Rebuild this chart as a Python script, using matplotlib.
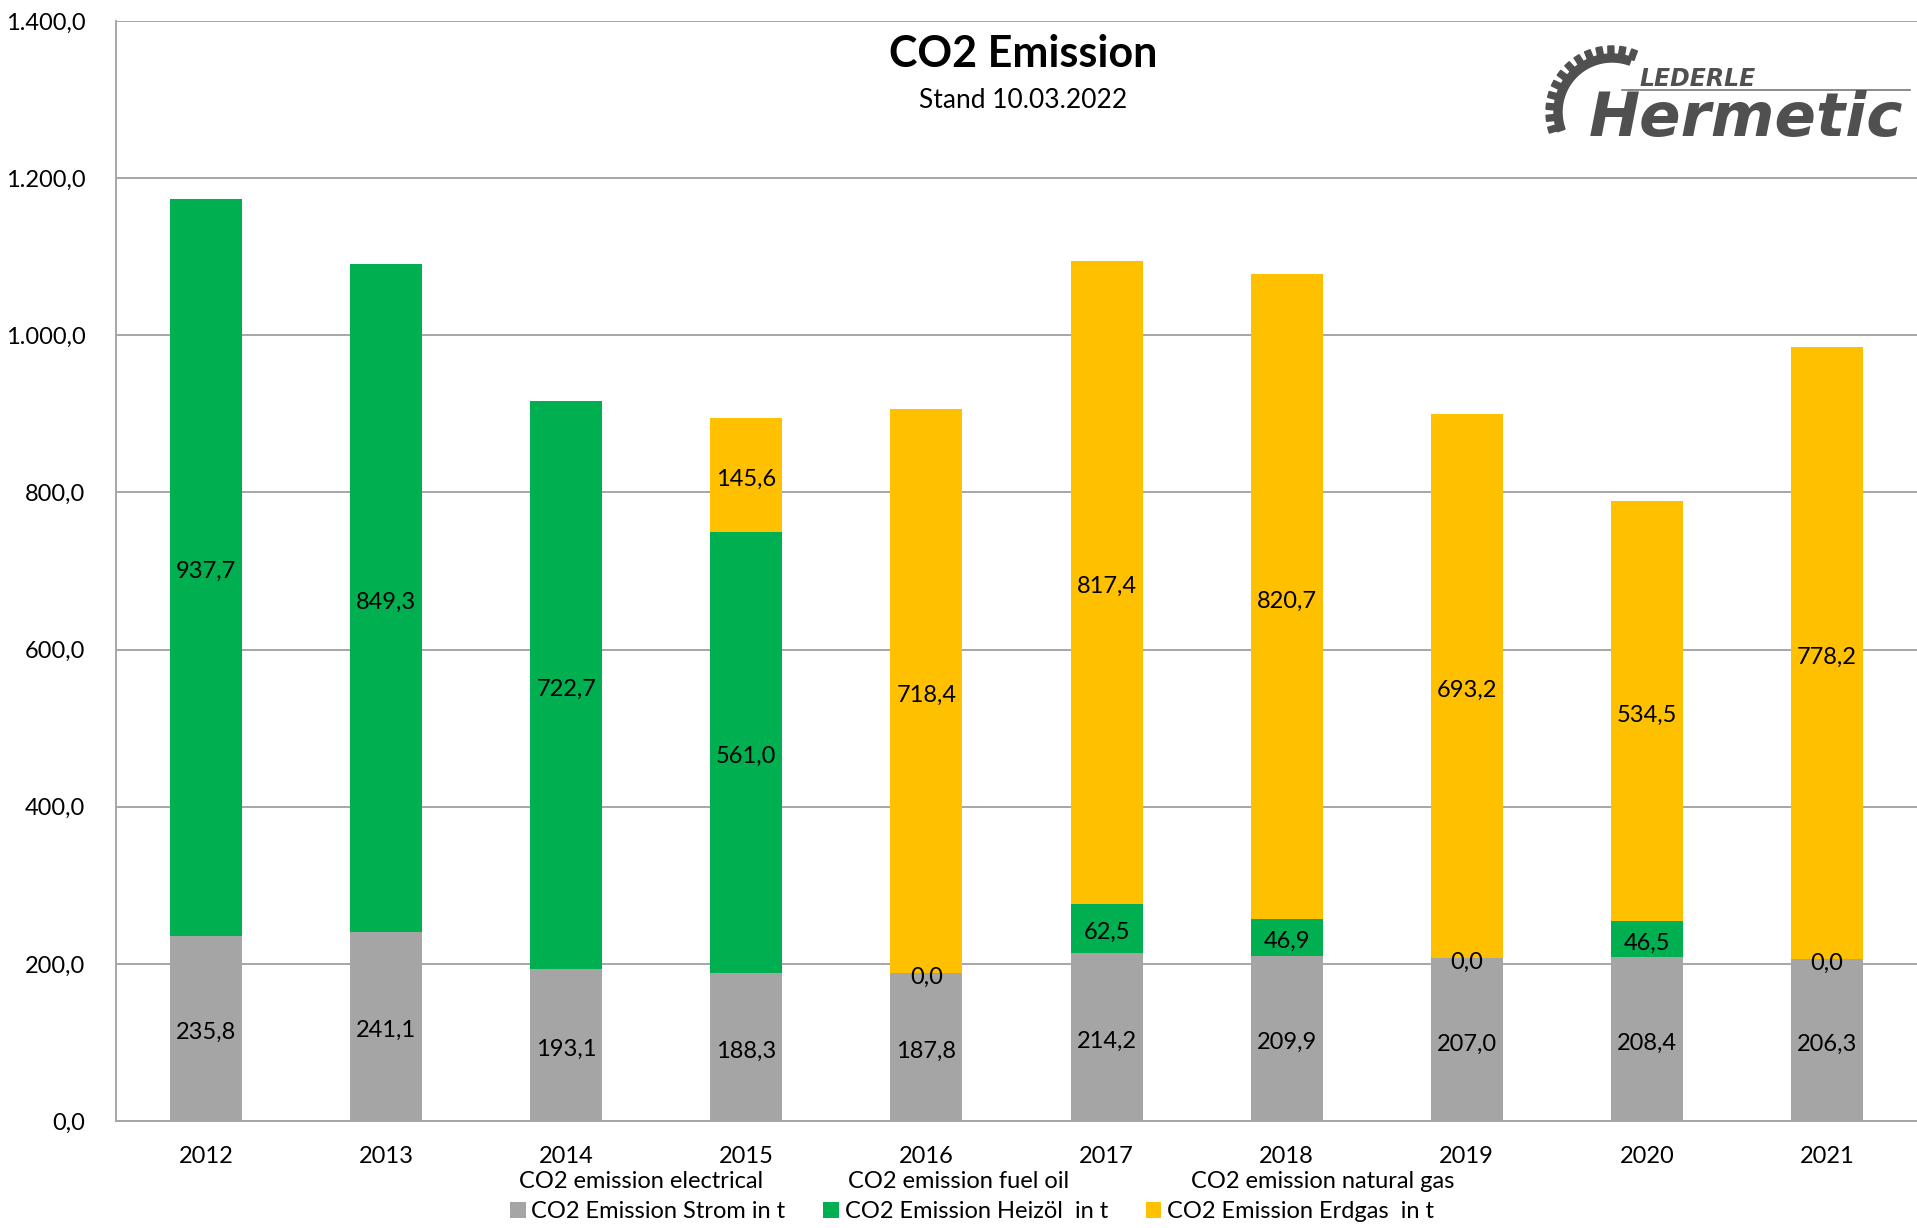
import numpy as np
import matplotlib
matplotlib.use("Agg")
from matplotlib import pyplot as plt
from matplotlib.patches import Polygon

plt.rcParams['font.family'] = ['Lato', 'DejaVu Sans']

years = ['2012', '2013', '2014', '2015', '2016', '2017', '2018', '2019', '2020', '2021']
strom = [235.8, 241.1, 193.1, 188.3, 187.8, 214.2, 209.9, 207.0, 208.4, 206.3]
heizoel = [937.7, 849.3, 722.7, 561.0, 0.0, 62.5, 46.9, 0.0, 46.5, 0.0]
erdgas = [None, None, None, 145.6, 718.4, 817.4, 820.7, 693.2, 534.5, 778.2]

series_names = ['CO2 Emission Strom in t', 'CO2 Emission Heizöl  in t', 'CO2 Emission Erdgas  in t']
series_titles = ['CO2 emission electrical', 'CO2 emission fuel oil', 'CO2 emission natural gas']
colors = ['#A5A5A5', '#00B050', '#FFC000']

W, H = 1917, 1228
fig = plt.figure(figsize=(W / 100, H / 100), dpi=100)
ax = fig.add_axes([116 / W, 1 - 1121 / H, 1 - 116 / W, (1121 - 21) / H])

def fmt(v):
    s = '{:,.1f}'.format(v)
    return s.replace(',', 'X').replace('.', ',').replace('X', '.')

x = np.arange(len(years))
bottom = np.zeros(len(years))
fs = 17
for vals, col, name in zip([strom, heizoel, erdgas], colors, series_names):
    v = np.array([np.nan if a is None else a for a in vals], dtype=float)
    h = np.nan_to_num(v)
    bars = ax.bar(x, h, 0.4, bottom=bottom, color=col, label=name, zorder=3)
    labels = ['' if np.isnan(a) else fmt(a) for a in v]
    txts = ax.bar_label(bars, labels=labels, label_type='center', fontsize=fs, color='black', zorder=4)
    for t in txts:
        # nudge slightly down like Excel's centring
        t.set_y(-3)
    bottom = bottom + h

ax.set_xlim(-0.5, 9.5)
ax.set_ylim(0, 1400)
ax.set_yticks(np.arange(0, 1401, 200))
ax.set_yticklabels([fmt(t) for t in np.arange(0, 1401, 200)], fontsize=fs)
ax.set_xticks(x)
ax.set_xticklabels(years, fontsize=fs)
ax.tick_params(length=0)
ax.tick_params(axis='x', pad=18)
ax.tick_params(axis='y', pad=22)
ax.grid(axis='y', color='#A6A6A6', linewidth=1.4, zorder=0)
for s in ['top', 'right']:
    ax.spines[s].set_visible(False)
for s in ['left', 'bottom']:
    ax.spines[s].set_color('#A6A6A6')
    ax.spines[s].set_linewidth(1.4)

fig.text(1023 / W, 1 - 54 / H, 'CO2 Emission', fontsize=31, fontweight='bold', ha='center', va='center')
fig.text(1023 / W, 1 - 100 / H, 'Stand 10.03.2022', fontsize=19, ha='center', va='center')

# legend with the series titles on top
leg = fig.legend(loc='center', bbox_to_anchor=(972 / W, 1 - 1212 / H), ncol=3, frameon=False,
                 fontsize=fs, handlelength=0.65, handleheight=0.65, handletextpad=0.25,
                 columnspacing=1.6, borderpad=0)
for t, xc in zip(series_titles, [641, 959, 1323]):
    fig.text(xc / W, 1 - 1181 / H, t, fontsize=fs, ha='center', va='center')

# logo
lax = fig.add_axes([0, 0, 1, 1], zorder=10)
lax.set_xlim(0, W)
lax.set_ylim(H, 0)
lax.axis('off')
logo = '#505050'
cx, cy, r = 1612, 112, 58
for a in np.arange(70, 205, 10.5):
    t = np.radians(a)
    ux, uy = np.cos(t), -np.sin(t)
    px, py = -uy, ux
    r0, r1, hw = r - 2, r + 8, 3
    pts = [(cx + ux * r0 + px * hw, cy + uy * r0 + py * hw),
           (cx + ux * r1 + px * hw, cy + uy * r1 + py * hw),
           (cx + ux * r1 - px * hw, cy + uy * r1 - py * hw),
           (cx + ux * r0 - px * hw, cy + uy * r0 - py * hw)]
    lax.add_patch(Polygon(pts, color=logo))
th = np.radians(np.linspace(70, 200, 60))
outer = [(cx + r * np.cos(a), cy - r * np.sin(a)) for a in th]
inner = [(cx + (r - 8) * np.cos(a), cy - (r - 8) * np.sin(a)) for a in th[::-1]]
lax.add_patch(Polygon(outer + inner, color=logo))
lax.plot([1622, 1910], [90, 90], color='#777777', lw=1.2)
lax.text(1640, 86, 'LEDERLE', fontsize=17, style='italic', color=logo, va='baseline',
         family='DejaVu Sans', fontweight='bold')
lax.text(1589, 136, 'Hermetic', fontsize=44, style='italic', color=logo, va='baseline',
         family='DejaVu Sans', fontweight='bold')

fig.savefig('out.png', dpi=100)
